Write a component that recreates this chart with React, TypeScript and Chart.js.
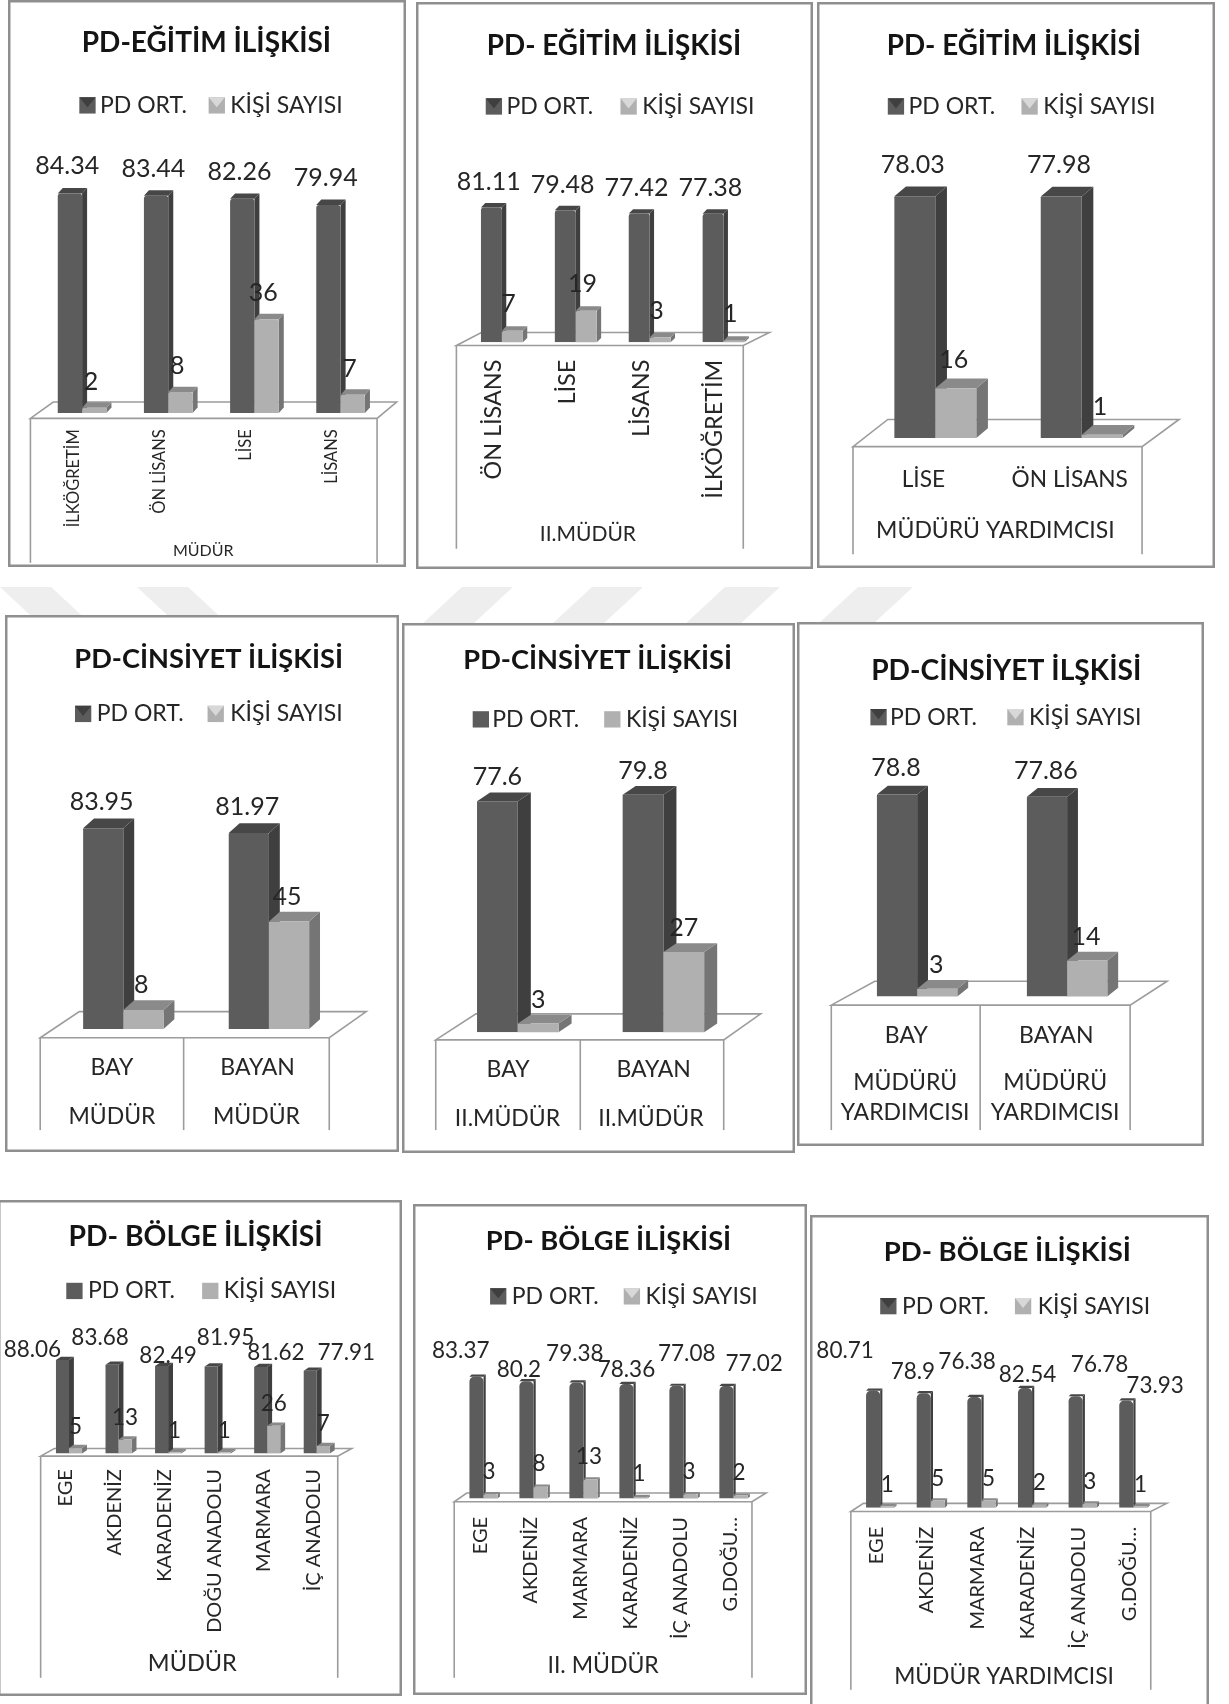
import React, { useEffect, useRef } from "react";
import { Chart, registerables } from "chart.js";

Chart.register(...registerables);

// ---- Values drawn by the charts -------------------------------------------
const SERIES_PD = "PD ORT.";
const SERIES_COUNT = "KİŞİ SAYISI";

const eduPrincipalCats = ["İLKÖĞRETİM", "ÖN LİSANS", "LİSE", "LİSANS"];
const eduPrincipalPd = [84.34, 83.44, 82.26, 79.94];
const eduPrincipalCount = [2, 8, 36, 7];

const eduDeputyCats = ["ÖN LİSANS", "LİSE", "LİSANS", "İLKÖĞRETİM"];
const eduDeputyPd = [81.11, 79.48, 77.42, 77.38];
const eduDeputyCount = [7, 19, 3, 1];

const eduAssistantCats = ["LİSE", "ÖN LİSANS"];
const eduAssistantPd = [78.03, 77.98];
const eduAssistantCount = [16, 1];

const genderCats = ["BAY", "BAYAN"];
const genderPrincipalPd = [83.95, 81.97];
const genderPrincipalCount = [8, 45];
const genderDeputyPd = [77.6, 79.8];
const genderDeputyCount = [3, 27];
const genderAssistantPd = [78.8, 77.86];
const genderAssistantCount = [3, 14];

const regionPrincipalCats = ["EGE", "AKDENİZ", "KARADENİZ", "DOĞU ANADOLU", "MARMARA", "İÇ ANADOLU"];
const regionPrincipalPd = [88.06, 83.68, 82.49, 81.95, 81.62, 77.91];
const regionPrincipalCount = [5, 13, 1, 1, 26, 7];

const regionOtherCats = ["EGE", "AKDENİZ", "MARMARA", "KARADENİZ", "İÇ ANADOLU", "G.DOĞU…"];
const regionDeputyPd = [83.37, 80.2, 79.38, 78.36, 77.08, 77.02];
const regionDeputyCount = [3, 8, 13, 1, 3, 2];
const regionAssistantPd = [80.71, 78.9, 76.38, 82.54, 76.78, 73.93];
const regionAssistantCount = [1, 5, 5, 2, 3, 1];

// ---- Layout ---------------------------------------------------------------
// Panel tables are written on a 1131-wide grid and scaled to the page here.
const UNIT = 1229 / 1131;
const FONT = "Lato, 'Open Sans', sans-serif";
const INK = "#262626";
const FRAME = "#8f8f8f";
const FLOOR_LINE = "#9c9c9c";
const PD_FRONT = "#5c5c5c";
const PD_SIDE = "#3f3f3f";
const PD_TOP = "#474747";
const COUNT_FRONT = "#b0b0b0";
const COUNT_SIDE = "#757575";
const COUNT_TOP = "#8a8a8a";

const uniform = (n: number, dx: number, dy: number) => Array.from({ length: n }, () => [dx, dy]);

const panels: any[] = [
  {
    title: "PD-EĞİTİM İLİŞKİSİ", titleFont: 28, cats: eduPrincipalCats, pd: eduPrincipalPd, count: eduPrincipalCount,
    frame: [7, 0, 373, 522], titleAt: [190, 40], legendY: 97, legendX: [73, 92, 192, 212], flat: false,
    floor: [28, 347, 365, 49, 385, 370], tableBottom: 518, dividers: [],
    plot: [35.9, 353.1], base: 380, k: 2.395, barW: 22.4, depth: [4.6, 5], radius: 3,
    tickFont: 16.5, tickRotated: true, tickAt: 395, tickShift: -8,
    groups: [{ lines: ["MÜDÜR"], cx: 187, cy: 507 }], groupFont: 16,
    pdNudge: uniform(4, -2.5, -25), countNudge: uniform(4, -3, -24), labelFont: 25,
  },
  {
    title: "PD- EĞİTİM İLİŞKİSİ", titleFont: 27.8, cats: eduDeputyCats, pd: eduDeputyPd, count: eduDeputyCount,
    frame: [383, 2, 748, 524], titleAt: [565, 42], legendY: 98, legendX: [447, 466, 571, 591], flat: false,
    floor: [420, 684, 708, 443, 318, 306], tableBottom: 505, dividers: [],
    plot: [427.9, 699.9], base: 315, k: 1.53, barW: 19.3, depth: [4, 4], radius: 3,
    tickFont: 23.4, tickRotated: true, tickAt: 331, tickShift: -8,
    groups: [{ lines: ["II.MÜDÜR"], cx: 541, cy: 492 }], groupFont: 21,
    pdNudge: uniform(4, -2.5, -23.5), countNudge: uniform(4, -3.5, -24.5), labelFont: 25,
  },
  {
    title: "PD- EĞİTİM İLİŞKİSİ", titleFont: 27.8, cats: eduAssistantCats, pd: eduAssistantPd, count: eduAssistantCount,
    frame: [752, 2, 1118, 523], titleAt: [933, 42], legendY: 98, legendX: [817, 836, 940, 960], flat: false,
    floor: [785, 1051, 1085, 817, 411, 386], tableBottom: 510, dividers: [],
    plot: [793.4, 1062.8], base: 403, k: 2.85, barW: 37.7, depth: [10.7, 9], radius: 1,
    tickFont: 22.7, tickRotated: false, tickAt: 441, tickShift: -11,
    groups: [{ lines: ["MÜDÜRÜ YARDIMCISI"], cx: 916, cy: 488 }], groupFont: 23,
    pdNudge: uniform(2, -2, -29), countNudge: uniform(2, -2, -26), labelFont: 25,
  },
  {
    title: "PD-CİNSİYET İLİŞKİSİ", titleFont: 27.2, cats: genderCats, pd: genderPrincipalPd, count: genderPrincipalCount,
    frame: [5, 566, 368, 1060], titleAt: [192, 607], legendY: 657, legendX: [69, 89, 191, 212], flat: false,
    floor: [37, 303, 337, 73, 955, 931], tableBottom: 1040, dividers: [169],
    plot: [46.5, 314.5], base: 947, k: 2.2, barW: 37, depth: [10, 9], radius: 1,
    tickFont: 23, tickRotated: false, tickAt: 982, tickShift: -10.5,
    groups: [{ lines: ["MÜDÜR"], cx: 103, cy: 1028 }, { lines: ["MÜDÜR"], cx: 236, cy: 1028 }], groupFont: 23,
    pdNudge: uniform(2, -1.5, -24), countNudge: uniform(2, -2, -23), labelFont: 25,
  },
  {
    title: "PD-CİNSİYET İLİŞKİSİ", titleFont: 27.2, cats: genderCats, pd: genderDeputyPd, count: genderDeputyCount,
    frame: [370, 573, 732, 1061], titleAt: [550, 608], legendY: 662, legendX: [435, 453, 556, 576], flat: true,
    floor: [401, 666, 700, 438, 957, 933], tableBottom: 1040, dividers: [534],
    plot: [409.5, 677.5], base: 950, k: 2.74, barW: 37.5, depth: [12, 8], radius: 0,
    tickFont: 23, tickRotated: false, tickAt: 984, tickShift: -9,
    groups: [{ lines: ["II.MÜDÜR"], cx: 467, cy: 1029 }, { lines: ["II.MÜDÜR"], cx: 599, cy: 1029 }], groupFont: 23,
    pdNudge: uniform(2, 0, -22), countNudge: uniform(2, 0, -22), labelFont: 25,
  },
  {
    title: "PD-CİNSİYET İLŞKİSİ", titleFont: 28.2, cats: genderCats, pd: genderAssistantPd, count: genderAssistantCount,
    frame: [733, 572, 1108, 1054], titleAt: [926, 617], legendY: 660, legendX: [801, 819, 927, 947], flat: false,
    floor: [765, 1040, 1074, 805, 925, 903], tableBottom: 1040, dividers: [902],
    plot: [775, 1051], base: 917, k: 2.36, barW: 37, depth: [10, 8], radius: 1,
    tickFont: 23, tickRotated: false, tickAt: 953, tickShift: -10,
    groups: [
      { lines: ["MÜDÜRÜ", "YARDIMCISI"], cx: 833, cy: 1010 },
      { lines: ["MÜDÜRÜ", "YARDIMCISI"], cx: 971, cy: 1010 },
    ], groupFont: 23,
    pdNudge: uniform(2, -1, -24), countNudge: uniform(2, -1, -22), labelFont: 25,
  },
  {
    title: "PD- BÖLGE İLİŞKİSİ", titleFont: 28.3, cats: regionPrincipalCats, pd: regionPrincipalPd, count: regionPrincipalCount,
    frame: [-2, 1104, 370, 1560], titleAt: [180, 1138], legendY: 1188, legendX: [61, 81, 186, 206], flat: true,
    floor: [37.4, 310.8, 323.6, 50, 1340, 1333], tableBottom: 1544, dividers: [],
    plot: [40.7, 314.3], base: 1337.5, k: 0.975, barW: 12, depth: [4.5, 3], radius: 0,
    tickFont: 20, tickRotated: true, tickAt: 1352, tickShift: -3.3,
    groups: [{ lines: ["MÜDÜR"], cx: 177, cy: 1531 }], groupFont: 23.5,
    pdNudge: [[-27.7, -9.2], [-11, -25], [6, -9.4], [13.3, -26.6], [14, -13], [33.2, -17]],
    countNudge: uniform(6, 0, -20), labelFont: 22.5,
  },
  {
    title: "PD- BÖLGE İLİŞKİSİ", titleFont: 27.3, cats: regionOtherCats, pd: regionDeputyPd, count: regionDeputyCount,
    frame: [380, 1108, 743, 1560], titleAt: [560, 1142], legendY: 1193, legendX: [451, 471, 574, 594], flat: false,
    floor: [418, 692, 705, 429.5, 1382, 1374], tableBottom: 1544, dividers: [],
    plot: [422, 698], base: 1379, k: 1.345, barW: 13, depth: [2, 2], radius: 5,
    tickFont: 20, tickRotated: true, tickAt: 1396, tickShift: -3,
    groups: [{ lines: ["II. MÜDÜR"], cx: 555, cy: 1533 }], groupFont: 23,
    pdNudge: [[-14.5, -23.6], [-7, -11], [-1.5, -26.7], [0, -12.8], [9.5, -29.3], [25.5, -20.4]],
    countNudge: uniform(6, -1.5, -21), labelFont: 22.5,
  },
  {
    title: "PD- BÖLGE İLİŞKİSİ", titleFont: 27.5, cats: regionOtherCats, pd: regionAssistantPd, count: regionAssistantCount,
    frame: [745, 1118, 1112, 1580], titleAt: [927, 1152], legendY: 1202, legendX: [810, 830, 934, 955], flat: false,
    floor: [783, 1059, 1073.7, 794.6, 1391, 1383.5], tableBottom: 1555, dividers: [],
    plot: [786.7, 1066.3], base: 1387.5, k: 1.335, barW: 13, depth: [2, 2], radius: 5,
    tickFont: 20, tickRotated: true, tickAt: 1405, tickShift: -3.8,
    groups: [{ lines: ["MÜDÜR YARDIMCISI"], cx: 924, cy: 1543 }], groupFont: 22.8,
    pdNudge: [[-25.8, -36.5], [-10, -20.2], [-6.7, -32.5], [2.3, -11.9], [22, -29], [26.5, -13.3]],
    countNudge: uniform(6, 0, -20), labelFont: 22.5,
  },
];

// Pale slanted bands behind the middle row of panels, as top-left, top-right, bottom-right, bottom-left x.
const bandTop = 587;
const bandBottom = 625;
const bands = [
  [0, 51, 92, 41],
  [137, 188, 229, 178],
  [462, 513, 472, 421],
  [592, 643, 602, 551],
  [725, 780, 739, 684],
  [858, 913, 872, 817],
];

function polygon(ctx: CanvasRenderingContext2D, pts: number[][], fill: string) {
  ctx.beginPath();
  pts.forEach(([x, y], i) => (i ? ctx.lineTo(x, y) : ctx.moveTo(x, y)));
  ctx.closePath();
  ctx.fillStyle = fill;
  ctx.fill();
}

function text(ctx: CanvasRenderingContext2D, s: string, x: number, y: number, font: string, align: CanvasTextAlign = "center", color = INK) {
  ctx.font = font;
  ctx.textAlign = align;
  ctx.textBaseline = "middle";
  ctx.fillStyle = color;
  ctx.fillText(s, x, y);
}

function legendSwatch(ctx: CanvasRenderingContext2D, x: number, y: number, size: number, base: string, notch: string, flat: boolean) {
  ctx.fillStyle = base;
  ctx.fillRect(x, y - size / 2, size, size);
  if (!flat) {
    polygon(ctx, [[x, y - size / 2], [x + size, y - size / 2], [x + size / 2, y + size * 0.12]], notch);
  }
}

function makePlugin(p: any, ox: number, oy: number) {
  const X = (v: number) => v * UNIT - ox;
  const Y = (v: number) => v * UNIT - oy;
  const [dx, dy] = [p.depth[0] * UNIT, p.depth[1] * UNIT];

  // side and top faces are extruded from each bar the scales have placed
  const drawDepth = (chart: any, index: number) => {
    const { ctx } = chart;
    const isPd = index === 0;
    const side = isPd ? PD_SIDE : COUNT_SIDE;
    const top = isPd ? PD_TOP : COUNT_TOP;
    ctx.save();
    chart.getDatasetMeta(index).data.forEach((bar: any) => {
      const l = bar.x - bar.width / 2;
      const r = bar.x + bar.width / 2;
      polygon(ctx, [[r, bar.y], [r + dx, bar.y - dy], [r + dx, bar.base - dy], [r, bar.base]], side);
      polygon(ctx, [[l, bar.y], [l + dx, bar.y - dy], [r + dx, bar.y - dy], [r, bar.y]], top);
    });
    ctx.restore();
  };

  return {
    id: "panelDecor",
    beforeDraw(chart: any) {
      const { ctx, width, height } = chart;
      ctx.save();
      ctx.fillStyle = "#ffffff";
      ctx.fillRect(0, 0, width, height);
      ctx.strokeStyle = FRAME;
      ctx.lineWidth = 2.5;
      ctx.strokeRect(1.25, 1.25, width - 2.5, height - 2.5);

      // floor of the plot and the table underneath it
      const [fl, fr, br, bl, fy, by] = p.floor;
      ctx.strokeStyle = FLOOR_LINE;
      ctx.lineWidth = 1.6;
      ctx.beginPath();
      ctx.moveTo(X(fl), Y(fy));
      ctx.lineTo(X(fr), Y(fy));
      ctx.lineTo(X(br), Y(by));
      ctx.lineTo(X(bl), Y(by));
      ctx.closePath();
      ctx.stroke();
      [fl, ...p.dividers, fr].forEach((lineX: number) => {
        ctx.beginPath();
        ctx.moveTo(X(lineX), Y(fy));
        ctx.lineTo(X(lineX), Y(p.tableBottom));
        ctx.stroke();
      });
      ctx.restore();
    },
    // The right-hand series sits in front of the left one, so it is held back
    // and painted straight after the first series.
    beforeDatasetDraw(chart: any, args: any) {
      if (args.index === 1) return false;
      drawDepth(chart, args.index);
      return true;
    },
    afterDatasetDraw(chart: any, args: any) {
      if (args.index !== 0) return;
      drawDepth(chart, 1);
      chart.getDatasetMeta(1).controller.draw();
    },
    afterDatasetsDraw(chart: any) {
      const { ctx } = chart;
      ctx.save();
      const font = `${p.labelFont}px ${FONT}`;
      [p.pdNudge, p.countNudge].forEach((nudge: number[][], ds: number) => {
        chart.getDatasetMeta(ds).data.forEach((bar: any, i: number) => {
          const v = chart.data.datasets[ds].data[i];
          text(ctx, String(v), bar.x + nudge[i][0] * UNIT, bar.y + nudge[i][1] * UNIT, font);
        });
      });
      ctx.restore();
    },
    afterDraw(chart: any) {
      const { ctx } = chart;
      ctx.save();
      text(ctx, p.title, X(p.titleAt[0]), Y(p.titleAt[1]), `bold ${p.titleFont}px ${FONT}`, "center", "#141414");

      const [s1, t1, s2, t2] = p.legendX;
      const [first, second] = chart.data.datasets;
      const swatch = 15 * UNIT;
      legendSwatch(ctx, X(s1), Y(p.legendY), swatch, PD_FRONT, PD_SIDE, p.flat);
      text(ctx, first.label, X(t1), Y(p.legendY), `23px ${FONT}`, "left");
      legendSwatch(ctx, X(s2), Y(p.legendY), swatch, COUNT_FRONT, "#d8d8d8", p.flat);
      text(ctx, second.label, X(t2), Y(p.legendY), `23px ${FONT}`, "left");

      p.groups.forEach((g: any) => {
        const lh = p.groupFont * 1.3;
        g.lines.forEach((line: string, i: number) => {
          const y = Y(g.cy) + (i - (g.lines.length - 1) / 2) * lh;
          text(ctx, line, X(g.cx), y, `${p.groupFont}px ${FONT}`);
        });
      });
      ctx.restore();
    },
  };
}

function Panel({ p }: { p: any }) {
  const ref = useRef<HTMLCanvasElement>(null);
  const left = Math.round(p.frame[0] * UNIT);
  const top = Math.round(p.frame[1] * UNIT);
  const width = Math.round((p.frame[2] - p.frame[0]) * UNIT);
  const height = Math.round((p.frame[3] - p.frame[1]) * UNIT);

  useEffect(() => {
    const baseY = p.base * UNIT - top;
    const catW = ((p.plot[1] - p.plot[0]) / p.cats.length) * UNIT;
    const barW = p.barW * UNIT;
    const tickGap = p.tickRotated
      ? (p.tickAt - p.base) * UNIT
      : (p.tickAt - p.base) * UNIT - p.tickFont * 0.6;
    const chart = new Chart(ref.current as HTMLCanvasElement, {
      type: "bar",
      data: {
        labels: p.cats,
        datasets: [
          {
            label: SERIES_PD, data: p.pd, backgroundColor: PD_FRONT,
            barPercentage: 1, categoryPercentage: (2 * barW) / catW,
            borderRadius: { topLeft: p.radius, topRight: p.radius }, borderSkipped: false,
          },
          {
            label: SERIES_COUNT, data: p.count, backgroundColor: COUNT_FRONT,
            barPercentage: 1, categoryPercentage: (2 * barW) / catW,
            borderRadius: { topLeft: Math.min(p.radius, 2), topRight: Math.min(p.radius, 2) }, borderSkipped: false,
          },
        ],
      },
      options: {
        responsive: false,
        animation: false,
        layout: {
          padding: {
            left: p.plot[0] * UNIT - left,
            right: left + width - p.plot[1] * UNIT,
            top: baseY - 100 * p.k * UNIT,
            bottom: 0,
          },
        },
        plugins: { legend: { display: false }, title: { display: false }, tooltip: { enabled: false } },
        scales: {
          x: {
            grid: { display: false, drawTicks: false },
            border: { display: false },
            afterFit: (scale: any) => {
              scale.height = height - baseY;
            },
            ticks: {
              autoSkip: false,
              color: INK,
              font: { family: FONT, size: p.tickFont },
              minRotation: p.tickRotated ? 90 : 0,
              maxRotation: p.tickRotated ? 90 : 0,
              padding: tickGap,
              labelOffset: p.tickShift * UNIT,
            },
          },
          y: { display: false, min: 0, max: 100 },
        },
      },
      plugins: [makePlugin(p, left, top)],
    } as any);
    return () => chart.destroy();
  }, []);

  return <canvas ref={ref} width={width} height={height} style={{ position: "absolute", left, top, width, height }} />;
}

export default function App() {
  return (
    <div style={{ position: "absolute", left: 0, top: 0, width: 1229, height: 1704, overflow: "hidden", background: "#fff" }}>
      <svg width={1229} height={1704} style={{ position: "absolute", left: 0, top: 0 }}>
        {bands.map((b, i) => (
          <polygon
            key={i}
            fill="#eeeeee"
            points={`${b[0]},${bandTop} ${b[1]},${bandTop} ${b[2]},${bandBottom} ${b[3]},${bandBottom}`}
          />
        ))}
      </svg>
      {panels.map((p, i) => (
        <Panel key={i} p={p} />
      ))}
    </div>
  );
}
